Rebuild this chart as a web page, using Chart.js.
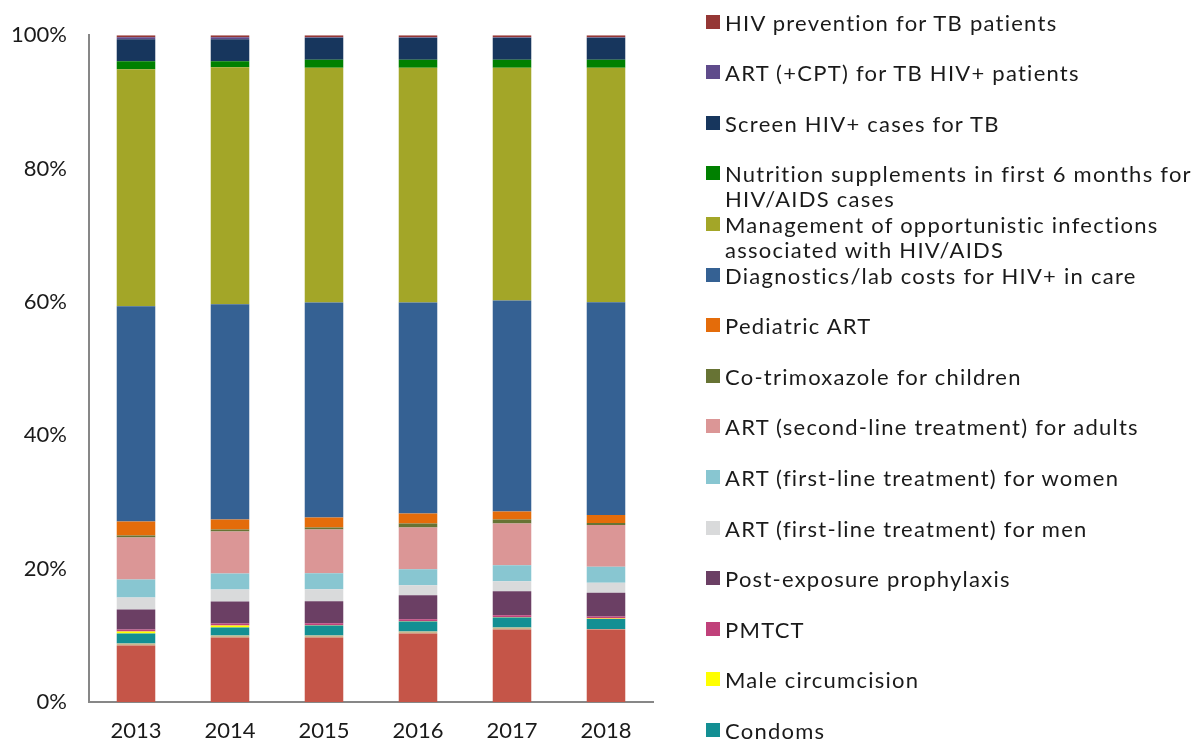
<!DOCTYPE html>
<html>
<head>
<meta charset="utf-8">
<script src="https://cdn.jsdelivr.net/npm/chart.js@4/dist/chart.umd.min.js"></script>
<style>
  html, body { margin: 0; padding: 0; background: #fff; }
  #wrap { position: relative; width: 1194px; height: 742px; font-family: "Lato", sans-serif; }
  #chart { position: absolute; left: 0; top: 0; }
  .lg { position: absolute; left: 706px; font-size: 22px; line-height: 25px; letter-spacing: 1.25px; color: #1a1a1a; white-space: nowrap; }
  .lg i { position: absolute; left: 0; top: 5px; width: 14px; height: 14px; }
  .lg span { display: block; margin-left: 19px; }
</style>
</head>
<body>
<div id="wrap">
  <canvas id="chart" width="1194" height="742"></canvas>
  <div id="legend"></div>
</div>
<script>
const years = ["2013", "2014", "2015", "2016", "2017", "2018"];
const yTicks = [0, 20, 40, 60, 80, 100];

// shares (percent of column), bottom segment first
const otherA = [8.5, 9.7, 9.7, 10.3, 10.9, 10.9];
const otherB = [0.3, 0.3, 0.3, 0.3, 0.3, 0.1];
const condoms = [1.5, 1.2, 1.5, 1.5, 1.5, 1.5];
const maleCirc = [0.3, 0.3, 0.05, 0.05, 0.05, 0.05];
const pmtct = [0.3, 0.3, 0.3, 0.3, 0.3, 0.3];
const pep = [3.0, 3.3, 3.3, 3.6, 3.6, 3.6];
const artMen = [1.8, 1.8, 1.8, 1.5, 1.5, 1.5];
const artWomen = [2.7, 2.4, 2.4, 2.4, 2.4, 2.4];
const artSecond = [6.3, 6.3, 6.6, 6.3, 6.3, 6.3];
const cotrim = [0.3, 0.3, 0.3, 0.6, 0.6, 0.3];
const pedArt = [2.1, 1.5, 1.5, 1.5, 1.2, 1.2];
const diagLab = [32.3, 32.3, 32.3, 31.7, 31.7, 32.0];
const oppInf = [35.6, 35.6, 35.3, 35.3, 35.0, 35.3];
const nutrition = [1.2, 0.9, 1.2, 1.2, 1.2, 1.2];
const screenTb = [3.3, 3.3, 3.3, 3.3, 3.3, 3.3];
const artTb = [0.3, 0.3, 0.1, 0.1, 0.1, 0.1];
const hivPrevTb = [0.3, 0.3, 0.3, 0.3, 0.3, 0.3];

const series = [
  { name: "Other (not in legend)", data: otherA, color: "#C55548", legend: false },
  { name: "Other 2 (not in legend)", data: otherB, color: "#C8B88C", legend: false },
  { name: "Condoms", data: condoms, color: "#138F93", legend: true },
  { name: "Male circumcision", data: maleCirc, color: "#FFFF00", legend: true },
  { name: "PMTCT", data: pmtct, color: "#C0417A", legend: true },
  { name: "Post-exposure prophylaxis", data: pep, color: "#6B3F64", legend: true },
  { name: "ART (first-line treatment) for men", data: artMen, color: "#D9DADB", legend: true },
  { name: "ART (first-line treatment) for women", data: artWomen, color: "#88C6D1", legend: true },
  { name: "ART (second-line treatment) for adults", data: artSecond, color: "#DB9696", legend: true },
  { name: "Co-trimoxazole for children", data: cotrim, color: "#677334", legend: true },
  { name: "Pediatric ART", data: pedArt, color: "#E46C0A", legend: true },
  { name: "Diagnostics/lab costs for HIV+ in care", data: diagLab, color: "#356193", legend: true },
  { name: ["Management of opportunistic infections", "associated with HIV/AIDS"], data: oppInf, color: "#A3A628", legend: true },
  { name: ["Nutrition supplements in first 6 months for", "HIV/AIDS cases"], data: nutrition, color: "#008000", legend: true },
  { name: "Screen HIV+ cases for TB", data: screenTb, color: "#17365D", legend: true },
  { name: "ART (+CPT) for TB HIV+ patients", data: artTb, color: "#5F4B8B", legend: true },
  { name: "HIV prevention for TB patients", data: hivPrevTb, color: "#953735", legend: true },
];

// 100% stacked: scale every column to its total
const totals = years.map((_, i) => series.reduce((s, d) => s + d.data[i], 0));

const datasets = series.map((s) => ({
  label: Array.isArray(s.name) ? s.name.join(" ") : s.name,
  data: s.data.map((v, i) => (v / totals[i]) * 100),
  backgroundColor: s.color,
  borderWidth: 0,
  barPercentage: 0.41,
  categoryPercentage: 1.0,
}));

const font = { family: "Lato, sans-serif", size: 22 };

new Chart(document.getElementById("chart"), {
  type: "bar",
  data: { labels: years, datasets },
  options: {
    responsive: false,
    animation: false,
    layout: { padding: { left: 0, top: 33, right: 1194 - 653, bottom: 0 } },
    plugins: { legend: { display: false }, tooltip: { enabled: false } },
    scales: {
      x: {
        stacked: true,
        grid: { display: false, drawTicks: false },
        border: { display: true, color: "#878787", width: 2 },
        ticks: { color: "#1a1a1a", font, padding: 16 },
        afterFit: (s) => { s.height = 40; },
      },
      y: {
        stacked: true,
        min: 0,
        max: 100,
        afterBuildTicks: (s) => { s.ticks = yTicks.map((v) => ({ value: v })); },
        grid: { display: false, drawTicks: false },
        border: { display: true, color: "#878787", width: 2 },
        ticks: { color: "#1a1a1a", font, padding: 22, callback: (v) => v + "%" },
        afterFit: (s) => { s.width = 89; },
      },
    },
  },
});

// legend, top item = last series
const legend = document.getElementById("legend");
const shown = series.filter((s) => s.legend).reverse();
shown.forEach((s, i) => {
  const el = document.createElement("div");
  el.className = "lg";
  el.style.top = (22 + i * 50.6 - 12.5) + "px";
  const lines = Array.isArray(s.name) ? s.name : [s.name];
  el.innerHTML = `<i style="background:${s.color}"></i><span>${lines.join("<br>")}</span>`;
  legend.appendChild(el);
});
</script>
</body>
</html>
